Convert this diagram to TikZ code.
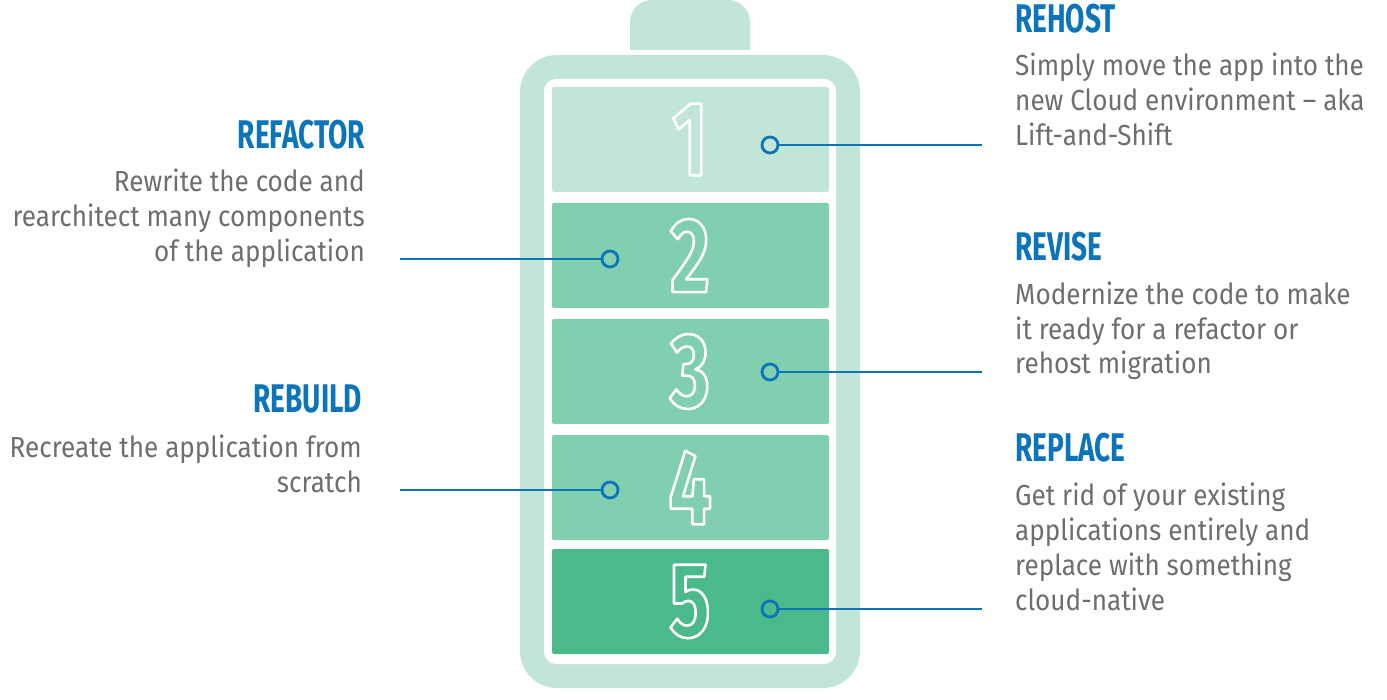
\documentclass[tikz,border=0pt]{standalone}
\usepackage{fontspec}
\setmainfont[FakeStretch=0.9]{Fira Sans}
\newfontfamily\headfont[FakeStretch=0.7]{Fira Sans}
\newfontfamily\numfont[FakeStretch=0.72]{Fira Sans}
\definecolor{pale}{HTML}{C1E6D7}
\definecolor{mid}{HTML}{80CFAE}
\definecolor{deep}{HTML}{4ABA8A}
\definecolor{pin}{HTML}{0B74BB}
\definecolor{txt}{HTML}{6E6E6E}
\newcommand{\hollow}[1]{\special{pdf:code q 1 Tr 2.6 w 1 1 1 RG 1 j}#1\special{pdf:code Q}}

\begin{document}
\begin{tikzpicture}[x=1pt,y=-1pt,
	head/.style={text=pin,font=\headfont\bfseries\fontsize{40}{40}\selectfont,inner sep=0pt},
	desc/.style={text=txt,font=\fontsize{29}{35}\selectfont,inner sep=0pt},
	dot/.style={circle,draw=pin,line width=2.8pt,minimum size=16pt,inner sep=0pt},
	wire/.style={draw=pin,line width=2.8pt},
	digit/.style={text=white,font=\numfont\bfseries\fontsize{106}{106}\selectfont,inner sep=0pt}]
					\useasboundingbox (0,0) rectangle (1387,700);
					% battery
					\fill[pale,rounded corners=22pt] (630,0) rectangle (750,90);
					\fill[white] (600,50) rectangle (780,55);
					\fill[pale,rounded corners=37pt] (520,55) rectangle (860,688);
					\fill[white,rounded corners=12pt] (544,79) rectangle (836,664);
					\foreach \y/\c [count=\i] in {87/pale,203/mid,319/mid,435/mid,549/deep} {
						\fill[\c,rounded corners=2pt] (552,\y) rectangle (829,{\y+105});
						\path (690,{\y+52.5}) node[digit] (n\i) {\hollow{\i}};
					}
					% pins
					\path (770,145) node[dot,fill=pale] (p1) {};
					\path (610,259) node[dot,fill=mid] (p2) {};
					\path (770,372) node[dot,fill=mid] (p3) {};
					\path (610,490) node[dot,fill=mid] (p4) {};
					\path (770,609) node[dot,fill=deep] (p5) {};
					\coordinate (e1) at (982,145);
					\coordinate (e2) at (400,259);
					\coordinate (e3) at (982,372);
					\coordinate (e4) at (400,490);
					\coordinate (e5) at (982,609);
					\foreach \i in {1,...,5} \draw[wire] (e\i) -- (p\i);
					% texts (multi-line nodes sit on their last line)
					\path (1015,33) node[head,anchor=base west] (h1) {REHOST};
					\path (1015,146) node[desc,anchor=base west,align=left] (t1) {Simply move the app into the\\new Cloud environment -- aka\\Lift-and-Shift};
					\path (365,149) node[head,anchor=base east] (h2) {REFACTOR};
					\path (365,262) node[desc,anchor=base east,align=right] (t2) {Rewrite the code and\\rearchitect many components\\of the application};
					\path (1015,261) node[head,anchor=base west] (h3) {REVISE};
					\path (1015,374) node[desc,anchor=base west,align=left] (t3) {Modernize the code to make\\it ready for a refactor or\\rehost migration};
					\path (362,413) node[head,anchor=base east] (h4) {REBUILD};
					\path (362,492) node[desc,anchor=base east,align=right] (t4) {Recreate the application from\\scratch};
					\path (1015,461) node[head,anchor=base west] (h5) {REPLACE};
					\path (1015,610) node[desc,anchor=base west,align=left] (t5) {Get rid of your existing\\applications entirely and\\replace with something\\cloud-native};
\end{tikzpicture}
\end{document}
